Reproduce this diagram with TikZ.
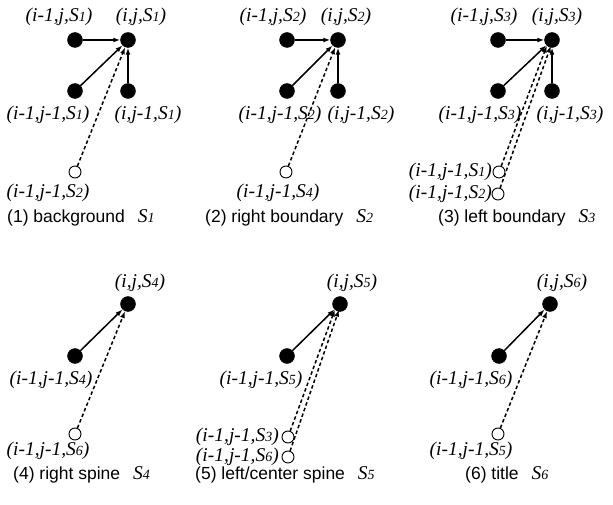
\documentclass[tikz,border=0pt]{standalone}
\usepackage{fontspec}
\setmainfont{Liberation Serif}
\setsansfont{Liberation Sans}
\usetikzlibrary{arrows.meta,calc}
\newcommand{\Ssub}[1]{S{\fontsize{14}{14}\selectfont #1}}
\tikzset{
  dot/.style={circle,fill=black,draw=black,minimum size=15pt,inner sep=0pt},
  odot/.style={circle,fill=white,draw=black,line width=0.9pt,minimum size=12pt,inner sep=0pt},
  lbl/.style={font=\fontsize{19.5}{20}\selectfont\itshape,inner sep=0pt},
  captext/.style={font=\sffamily\fontsize{17.5}{19}\selectfont,inner sep=0pt,anchor=west},
  arr/.style={line width=1.5pt,-{Latex[length=7pt,width=5pt]}},
  darr/.style={line width=1.5pt,dash pattern=on 3.5pt off 2.5pt,-{Latex[length=7pt,width=5pt]}}
}
\newcommand{\capS}[1]{\hspace{13pt}{\rmfamily\fontsize{19.5}{20}\selectfont\itshape\Ssub{#1}}}
\begin{document}
\begin{tikzpicture}[x=1pt,y=-1pt]
\useasboundingbox (0,0) rectangle (613,505);
% ---------- panel 1
\node[dot] (a1) at (75,40) {};
\node[dot] (b1) at (128,40) {};
\node[dot] (c1) at (75,91) {};
\node[dot] (d1) at (128,91) {};
\node[odot] (e1) at (75,172) {};
\node[lbl] (la1) at (59,17) {(i-1,j,\Ssub{1})};
\node[lbl] (lb1) at (141,17) {(i,j,\Ssub{1})};
\node[lbl] (lc1) at (48,115) {(i-1,j-1,\Ssub{1})};
\node[lbl] (ld1) at (148,115) {(i,j-1,\Ssub{1})};
\node[lbl] (le1) at (48,193) {(i-1,j-1,\Ssub{2})};
\node[captext] (cap1) at (7,218) {(1) background\capS{1}};
\draw[arr] (a1) -- (b1);
\draw[arr] (c1) -- (b1);
\draw[arr] (d1) -- (b1);
\draw[darr] (e1) -- (b1);
% ---------- panel 2
\node[dot] (a2) at (287,40) {};
\node[dot] (b2) at (338,40) {};
\node[dot] (c2) at (287,91) {};
\node[dot] (d2) at (338,91) {};
\node[odot] (e2) at (286,172) {};
\node[lbl] (la2) at (273,17) {(i-1,j,\Ssub{2})};
\node[lbl] (lb2) at (346,17) {(i,j,\Ssub{2})};
\node[lbl] (lc2) at (280,115) {(i-1,j-1,\Ssub{2})};
\node[lbl] (ld2) at (361,115) {(i,j-1,\Ssub{2})};
\node[lbl] (le2) at (278,193) {(i-1,j-1,\Ssub{4})};
\node[captext] (cap2) at (205,218) {(2) right boundary\capS{2}};
\draw[arr] (a2) -- (b2);
\draw[arr] (c2) -- (b2);
\draw[arr] (d2) -- (b2);
\draw[darr] (e2) -- (b2);
% ---------- panel 3
\node[dot] (a3) at (498,40) {};
\node[dot] (b3) at (552,40) {};
\node[dot] (c3) at (498,91) {};
\node[dot] (d3) at (552,91) {};
\node[odot] (e3) at (499,172) {};
\node[odot] (f3) at (498,194) {};
\node[lbl] (la3) at (484,17) {(i-1,j,\Ssub{3})};
\node[lbl] (lb3) at (557,17) {(i,j,\Ssub{3})};
\node[lbl] (lc3) at (480,115) {(i-1,j-1,\Ssub{3})};
\node[lbl] (ld3) at (570,115) {(i,j-1,\Ssub{3})};
\node[lbl,anchor=east] (le3) at (492,172) {(i-1,j-1,\Ssub{1})};
\node[lbl,anchor=east] (lf3) at (492,194) {(i-1,j-1,\Ssub{2})};
\node[captext] (cap3) at (438,218) {(3) left boundary\capS{3}};
\draw[arr] (a3) -- (b3);
\draw[arr] (c3) -- (b3);
\draw[arr] (d3) -- (b3);
\draw[darr,shorten >=6pt] (e3) -- ($(b3.center)+(-3,0)$);
\draw[darr,shorten >=6pt] (f3) -- ($(b3.center)+(1,0)$);
% ---------- panel 4
\node[dot] (b4) at (128,304) {};
\node[dot] (c4) at (75,356) {};
\node[odot] (e4) at (75,434) {};
\node[lbl] (lb4) at (140,283) {(i,j,\Ssub{4})};
\node[lbl] (lc4) at (51,380) {(i-1,j-1,\Ssub{4})};
\node[lbl] (le4) at (48,451) {(i-1,j-1,\Ssub{6})};
\node[captext] (cap4) at (13,475) {(4) right spine\capS{4}};
\draw[arr] (c4) -- (b4);
\draw[darr] (e4) -- (b4);
% ---------- panel 5
\node[dot] (b5) at (340,304) {};
\node[dot] (c5) at (287,356) {};
\node[odot] (e5) at (288,437) {};
\node[odot] (f5) at (288,457) {};
\node[lbl] (lb5) at (352,283) {(i,j,\Ssub{5})};
\node[lbl] (lc5) at (261,380) {(i-1,j-1,\Ssub{5})};
\node[lbl,anchor=east] (le5) at (279,437) {(i-1,j-1,\Ssub{3})};
\node[lbl,anchor=east] (lf5) at (279,457) {(i-1,j-1,\Ssub{6})};
\node[captext] (cap5) at (195,475) {(5) left/center spine\capS{5}};
\draw[arr] (c5) -- (b5);
\draw[darr,shorten >=6pt] (e5) -- ($(b5.center)+(-3,0)$);
\draw[darr,shorten >=6pt] (f5) -- ($(b5.center)+(1,0)$);
% ---------- panel 6
\node[dot] (b6) at (550,304) {};
\node[dot] (c6) at (499,356) {};
\node[odot] (e6) at (498,434) {};
\node[lbl] (lb6) at (562,283) {(i,j,\Ssub{6})};
\node[lbl] (lc6) at (471,380) {(i-1,j-1,\Ssub{6})};
\node[lbl] (le6) at (471,451) {(i-1,j-1,\Ssub{5})};
\node[captext] (cap6) at (465,475) {(6) title\capS{6}};
\draw[arr] (c6) -- (b6);
\draw[darr] (e6) -- (b6);
\end{tikzpicture}
\end{document}
